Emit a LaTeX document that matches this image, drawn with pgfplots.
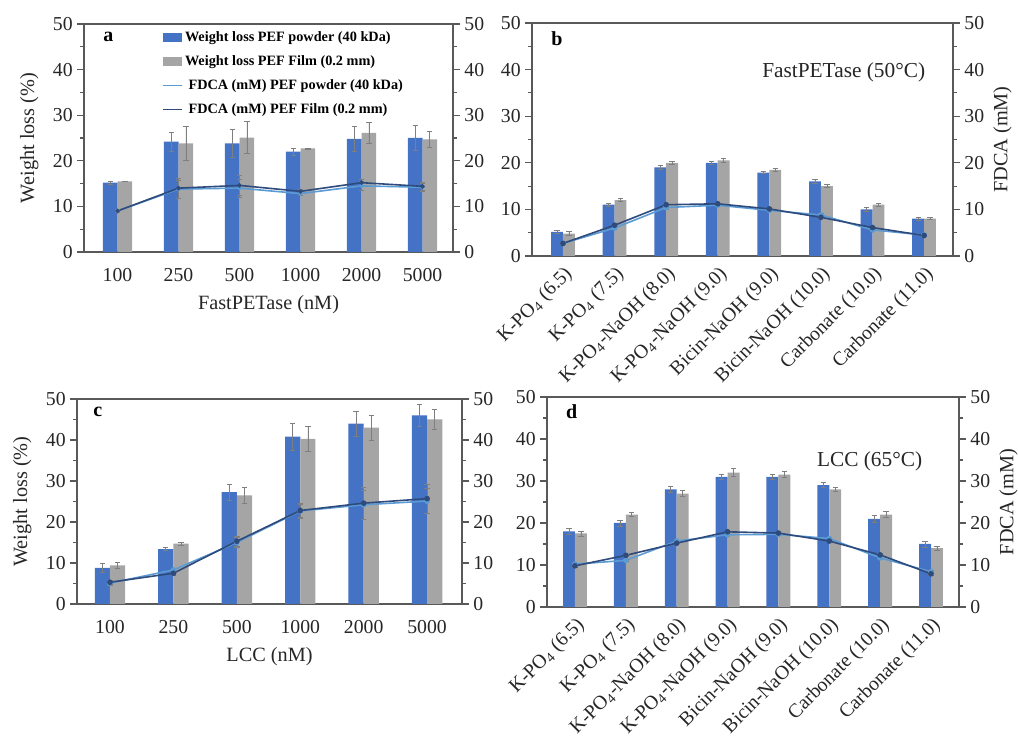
\documentclass[border=0pt]{standalone}
\usepackage{fontspec}
\setmainfont{Liberation Serif}
\usepackage{pgfplots}
\pgfplotsset{compat=1.18}
\definecolor{barblue}{HTML}{4472C4}
\definecolor{bargray}{HTML}{A5A5A5}
\definecolor{lightline}{HTML}{5B9BD5}
\definecolor{darkline}{HTML}{2F4B7C}
\definecolor{axgray}{HTML}{595959}
\definecolor{errgray}{HTML}{7F7F7F}
\pgfplotsset{
  base/.style={
    scale only axis,
    ymin=0, ymax=50, ytick={0,10,...,50}, minor ytick={5,15,...,45},
    axis line style={axgray, line width=0.9pt},
    tick style={axgray, line width=0.8pt},
    major tick length=5pt, minor tick length=3pt,
    tick align=outside,
    /pgf/number format/assume math mode=true,
    tick label style={font=\fontsize{14.8}{15}\selectfont, text=black!85},
    label style={font=\fontsize{15.2}{16}\selectfont, text=black!85},
  },
  leftax/.style={base, ytick pos=left, x tick style={draw=none}, xtick pos=bottom, clip=false},
  rightax/.style={base, axis y line*=right, axis x line=none, xmin=0, xmax=1},
  wbar/.style={ybar, bar width=#1, bar shift=0pt, draw=none,
    error bars/y dir=both, error bars/y explicit,
    error bars/error bar style={errgray, line width=0.5pt},
    error bars/error mark options={rotate=90, errgray, mark size=2pt, line width=0.5pt}},
  fline/.style={line width=1.2pt, mark=*, mark size=1.5pt,
    error bars/y dir=both, error bars/y explicit,
    error bars/error bar style={errgray, line width=0.5pt},
    error bars/error mark options={rotate=90, errgray, mark size=2pt, line width=0.5pt}},
  rotlabels/.style={xticklabel style={rotate=45, anchor=north east, inner sep=1pt, font=\fontsize{14.8}{15}\selectfont}},
  numlabels/.style={xticklabel style={yshift=-4pt}, xlabel style={yshift=-3pt}, ylabel style={yshift=4pt}},
}
\begin{document}
\begin{tikzpicture}
\useasboundingbox (0pt,0pt) rectangle (763.5pt,555.75pt);

% ---------------- panel a ----------------
\begin{axis}[leftax, numlabels, at={(63pt,366.75pt)}, anchor=south west, width=276.75pt, height=171pt,
  xmin=-0.55, xmax=5.5, xtick={0,...,5}, xticklabels={100,250,500,1000,2000,5000},
  xlabel={FastPETase (nM)}, ylabel={Weight loss (\%)},
  legend style={at={(0.2,0.99)}, anchor=north west, draw=none, fill=none,
    font=\fontsize{10.7}{12}\selectfont\bfseries, row sep=5pt, cells={anchor=west}}]
\addplot[wbar=0.24, fill=barblue,
  legend image code/.code={\fill[barblue] (0pt,-3.5pt) rectangle (14pt,3.5pt);}]
  coordinates {(-0.12,15.2)+-(0,0.4) (0.88,24.2)+-(0,2.1) (1.88,23.8)+-(0,3.0) (2.88,22.0)+-(0,0.7) (3.88,24.8)+-(0,2.7) (4.88,25.0)+-(0,2.8)};
\addlegendentry{Weight loss PEF powder (40 kDa)}
\addplot[wbar=0.24, fill=bargray,
  legend image code/.code={\fill[bargray] (0pt,-3.5pt) rectangle (14pt,3.5pt);}]
  coordinates {(0.12,15.5)+-(0,0.1) (1.12,23.8)+-(0,3.8) (2.12,25.1)+-(0,3.5) (3.12,22.7)+-(0,0.1) (4.12,26.1)+-(0,2.3) (5.12,24.7)+-(0,1.8)};
\addlegendentry{Weight loss PEF Film (0.2 mm)}
\addplot[fline, lightline, mark size=1pt,
  legend image code/.code={\draw[lightline, line width=1.2pt] (0pt,0pt) -- (14pt,0pt);}]
  coordinates {(0,9.0)+-(0,0.3) (1,13.8)+-(0,2.0) (2,14.0)+-(0,2.0) (3,12.8)+-(0,0.4) (4,14.5)+-(0,1.0) (5,14.2)+-(0,0.8)};
\addlegendentry{~FDCA (mM) PEF powder (40 kDa)}
\addplot[fline, darkline, mark size=1pt,
  legend image code/.code={\draw[darkline, line width=1.2pt] (0pt,0pt) -- (14pt,0pt);}]
  coordinates {(0,9.0)+-(0,0.3) (1,14.0)+-(0,2.2) (2,14.6)+-(0,2.2) (3,13.3)+-(0,0.5) (4,15.2)+-(0,0.8) (5,14.4)+-(0,0.8)};
\addlegendentry{~FDCA (mM) PEF Film (0.2 mm)}
\node[font=\fontsize{15}{15}\selectfont\bfseries, anchor=north west] at (rel axis cs:0.04,0.985) {a};
\end{axis}
\begin{axis}[rightax, at={(63pt,366.75pt)}, anchor=south west, width=276.75pt, height=171pt]
\end{axis}

% ---------------- panel b ----------------
\begin{axis}[leftax, rotlabels, at={(399pt,363.75pt)}, anchor=south west, width=315.75pt, height=174.75pt,
  xmin=-0.6, xmax=7.56, xtick={0,...,7},
  xticklabels={{K-PO\textsubscript{4} (6.5)},{K-PO\textsubscript{4} (7.5)},{K-PO\textsubscript{4}-NaOH (8.0)},{K-PO\textsubscript{4}-NaOH (9.0)},{Bicin-NaOH (9.0)},{Bicin-NaOH (10.0)},{Carbonate (10.0)},{Carbonate (11.0)}}]
\addplot[wbar=0.23, fill=barblue]
  coordinates {(-0.115,5.2)+-(0,0.4) (0.885,11.0)+-(0,0.3) (1.885,19.0)+-(0,0.5) (2.885,20.0)+-(0,0.3) (3.885,17.9)+-(0,0.2) (4.885,16.0)+-(0,0.4) (5.885,10.0)+-(0,0.5) (6.885,8.0)+-(0,0.4)};
\addplot[wbar=0.23, fill=bargray]
  coordinates {(0.115,4.8)+-(0,0.4) (1.115,12.0)+-(0,0.3) (2.115,20.0)+-(0,0.3) (3.115,20.5)+-(0,0.5) (4.115,18.5)+-(0,0.4) (5.115,15.0)+-(0,0.3) (6.115,11.0)+-(0,0.4) (7.115,8.0)+-(0,0.2)};
\addplot[fline, lightline]
  coordinates {(0,2.7)+-(0,0.2) (1,6.0)+-(0,0.3) (2,10.4)+-(0,0.3) (3,10.9)+-(0,0.3) (4,9.8)+-(0,0.3) (5,8.8)+-(0,0.3) (6,5.6)+-(0,0.3) (7,4.5)+-(0,0.2)};
\addplot[fline, darkline]
  coordinates {(0,2.7)+-(0,0.2) (1,6.6)+-(0,0.3) (2,11.0)+-(0,0.3) (3,11.2)+-(0,0.3) (4,10.1)+-(0,0.3) (5,8.3)+-(0,0.3) (6,6.1)+-(0,0.3) (7,4.4)+-(0,0.2)};
\node[font=\fontsize{15}{15}\selectfont\bfseries, anchor=north west] at (rel axis cs:0.035,0.985) {b};
\node[font=\fontsize{16}{16}\selectfont, text=black!85, anchor=east] at (rel axis cs:0.945,0.79) {FastPETase (50°C)};
\end{axis}
\begin{axis}[rightax, at={(399pt,363.75pt)}, anchor=south west, width=315.75pt, height=174.75pt, ylabel={FDCA (mM)}]
\end{axis}

% ---------------- panel c ----------------
\begin{axis}[leftax, numlabels, at={(57.75pt,102.75pt)}, anchor=south west, width=288.75pt, height=153.75pt,
  xmin=-0.52, xmax=5.55, xtick={0,...,5}, xticklabels={100,250,500,1000,2000,5000},
  xlabel={LCC (nM)}, ylabel={Weight loss (\%)}]
\addplot[wbar=0.24, fill=barblue]
  coordinates {(-0.12,8.8)+-(0,1.0) (0.88,13.4)+-(0,0.3) (1.88,27.3)+-(0,1.9) (2.88,40.8)+-(0,3.2) (3.88,44.0)+-(0,3.0) (4.88,46.0)+-(0,2.7)};
\addplot[wbar=0.24, fill=bargray]
  coordinates {(0.12,9.4)+-(0,0.8) (1.12,14.7)+-(0,0.4) (2.12,26.5)+-(0,2.0) (3.12,40.3)+-(0,3.0) (4.12,43.0)+-(0,3.0) (5.12,45.0)+-(0,2.5)};
\addplot[fline, lightline]
  coordinates {(0,5.1)+-(0,0.5) (1,8.3)+-(0,0.5) (2,15.0)+-(0,1.2) (3,22.7)+-(0,1.5) (4,24.2)+-(0,3.5) (5,25.1)+-(0,3.0)};
\addplot[fline, darkline]
  coordinates {(0,5.3)+-(0,0.5) (1,7.5)+-(0,0.5) (2,15.3)+-(0,1.2) (3,22.8)+-(0,1.8) (4,24.6)+-(0,3.9) (5,25.7)+-(0,3.6)};
\node[font=\fontsize{15}{15}\selectfont\bfseries, anchor=north west] at (rel axis cs:0.03,0.985) {c};
\end{axis}
\begin{axis}[rightax, at={(57.75pt,102.75pt)}, anchor=south west, width=288.75pt, height=153.75pt]
\end{axis}

% ---------------- panel d ----------------
\begin{axis}[leftax, rotlabels, at={(410.25pt,100.5pt)}, anchor=south west, width=309pt, height=157.5pt,
  xmin=-0.55, xmax=7.55, xtick={0,...,7},
  xticklabels={{K-PO\textsubscript{4} (6.5)},{K-PO\textsubscript{4} (7.5)},{K-PO\textsubscript{4}-NaOH (8.0)},{K-PO\textsubscript{4}-NaOH (9.0)},{Bicin-NaOH (9.0)},{Bicin-NaOH (10.0)},{Carbonate (10.0)},{Carbonate (11.0)}}]
\addplot[wbar=0.235, fill=barblue]
  coordinates {(-0.1175,18.0)+-(0,0.8) (0.8825,20.0)+-(0,0.7) (1.8825,28.0)+-(0,0.8) (2.8825,31.0)+-(0,0.7) (3.8825,31.0)+-(0,0.5) (4.8825,29.0)+-(0,0.6) (5.8825,21.0)+-(0,0.8) (6.8825,15.0)+-(0,0.7)};
\addplot[wbar=0.235, fill=bargray]
  coordinates {(0.1175,17.5)+-(0,0.6) (1.1175,22.0)+-(0,0.5) (2.1175,27.0)+-(0,0.7) (3.1175,32.0)+-(0,0.9) (4.1175,31.5)+-(0,0.7) (5.1175,28.0)+-(0,0.5) (6.1175,22.0)+-(0,0.7) (7.1175,14.0)+-(0,0.5)};
\addplot[fline, lightline]
  coordinates {(0,10.2)+-(0,0.3) (1,11.1)+-(0,0.3) (2,15.7)+-(0,0.3) (3,17.2)+-(0,0.3) (4,17.3)+-(0,0.3) (5,16.3)+-(0,0.3) (6,11.7)+-(0,0.3) (7,8.4)+-(0,0.3)};
\addplot[fline, darkline]
  coordinates {(0,9.8)+-(0,0.3) (1,12.3)+-(0,0.3) (2,15.2)+-(0,0.3) (3,17.9)+-(0,0.3) (4,17.6)+-(0,0.3) (5,15.7)+-(0,0.3) (6,12.4)+-(0,0.3) (7,7.9)+-(0,0.3)};
\node[font=\fontsize{15}{15}\selectfont\bfseries, anchor=north west] at (rel axis cs:0.035,0.985) {d};
\node[font=\fontsize{16}{16}\selectfont, text=black!85, anchor=east] at (rel axis cs:0.922,0.695) {LCC (65°C)};
\end{axis}
\begin{axis}[rightax, at={(410.25pt,100.5pt)}, anchor=south west, width=309pt, height=157.5pt, ylabel={FDCA (mM)}]
\end{axis}
\end{tikzpicture}
\end{document}
